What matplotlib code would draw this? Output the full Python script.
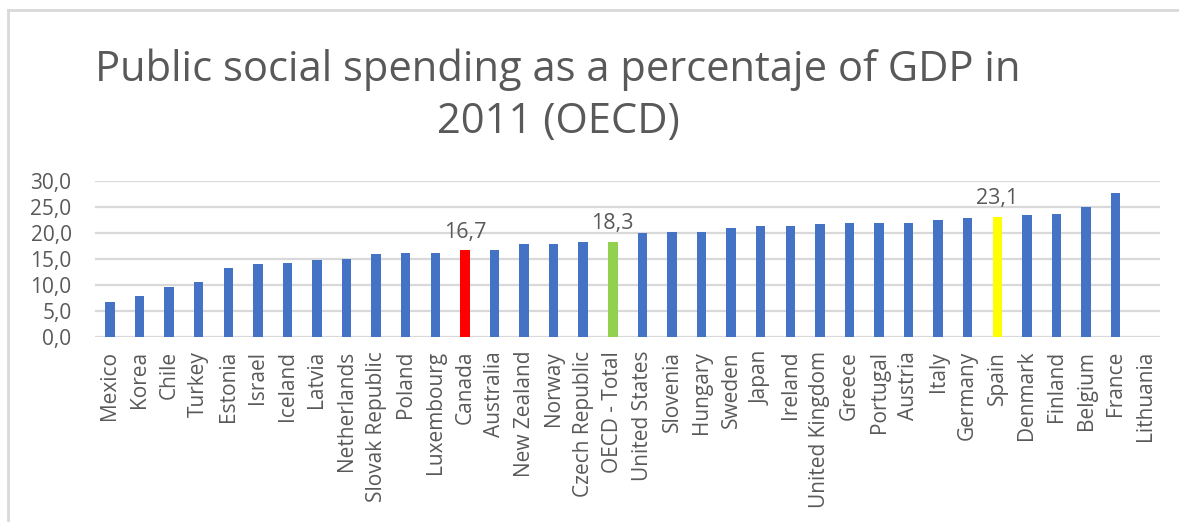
import matplotlib
matplotlib.use("Agg")
import matplotlib.pyplot as plt
import numpy as np
from matplotlib.lines import Line2D
from matplotlib.ticker import FuncFormatter

COUNTRIES = [
    "Mexico", "Korea", "Chile", "Turkey", "Estonia", "Israel", "Iceland",
    "Latvia", "Netherlands", "Slovak Republic", "Poland", "Luxembourg",
    "Canada", "Australia", "New Zealand", "Norway", "Czech Republic",
    "OECD - Total", "United States", "Slovenia", "Hungary", "Sweden",
    "Japan", "Ireland", "United Kingdom", "Greece", "Portugal", "Austria",
    "Italy", "Germany", "Spain", "Denmark", "Finland", "Belgium", "France",
    "Lithuania",
]

SPENDING = [
    6.8, 7.8, 9.6, 10.5, 13.2, 14.0, 14.2, 14.7, 14.9, 15.9, 16.2, 16.2,
    16.7, 16.7, 17.9, 17.9, 18.2, 18.3, 19.9, 20.1, 20.1, 20.9, 21.3,
    21.4, 21.7, 21.9, 21.9, 21.9, 22.4, 22.8, 23.1, 23.4, 23.6, 24.9,
    27.6, np.nan,
]

HIGHLIGHTS = {
    "Canada": "#ff0000",
    "OECD - Total": "#92d050",
    "Spain": "#ffff00",
}

BASE_COLOR = "#4472c4"
TEXT_COLOR = "#595959"
FONT = "Open Sans"


def comma_format(value, _position):
    return f"{value:.1f}".replace(".", ",")


fig = plt.figure(figsize=(11.79, 5.22), dpi=100)
ax = fig.add_axes([0.0807, 0.3544, 0.9032, 0.2994])

positions = np.arange(len(COUNTRIES))
values = np.nan_to_num(np.array(SPENDING, dtype=float))
colors = [HIGHLIGHTS.get(name, BASE_COLOR) for name in COUNTRIES]

ax.bar(positions, values, width=0.32, color=colors, zorder=3)

for index, name in enumerate(COUNTRIES):
    if name in HIGHLIGHTS:
        ax.text(
            index,
            values[index] + 1.4,
            comma_format(values[index], None),
            ha="center",
            va="bottom",
            fontsize=15.5,
            color=TEXT_COLOR,
            family=FONT,
        )

ax.set_xlim(-0.5, len(COUNTRIES) - 0.5)
ax.set_ylim(0, 30)
ax.set_yticks(np.arange(0, 31, 5))
ax.yaxis.set_major_formatter(FuncFormatter(comma_format))
ax.set_xticks(positions)
ax.set_xticklabels(COUNTRIES, rotation=90)

for label in ax.get_xticklabels() + ax.get_yticklabels():
    label.set_family(FONT)
    label.set_color(TEXT_COLOR)
    label.set_fontsize(15)

ax.tick_params(axis="both", length=0)
ax.tick_params(axis="x", pad=10)
ax.tick_params(axis="y", pad=17)
ax.grid(axis="y", color="#d9d9d9", linewidth=1.6, zorder=0)
for spine in ax.spines.values():
    spine.set_visible(False)

fig.text(
    558 / 1179,
    1 - 96 / 522,
    "Public social spending as a percentaje of GDP in\n2011 (OECD)",
    ha="center",
    va="center",
    fontsize=30,
    color=TEXT_COLOR,
    family=FONT,
    linespacing=1.3,
)

# light chart-area frame on the top and left edges
frame_color = "#d9d9d9"
fig.add_artist(Line2D([8 / 1179, 1], [1 - 10 / 522] * 2,
                      transform=fig.transFigure, color=frame_color, linewidth=2))
fig.add_artist(Line2D([8 / 1179] * 2, [0, 1 - 10 / 522],
                      transform=fig.transFigure, color=frame_color, linewidth=2))

fig.savefig("out.png", dpi=100)
